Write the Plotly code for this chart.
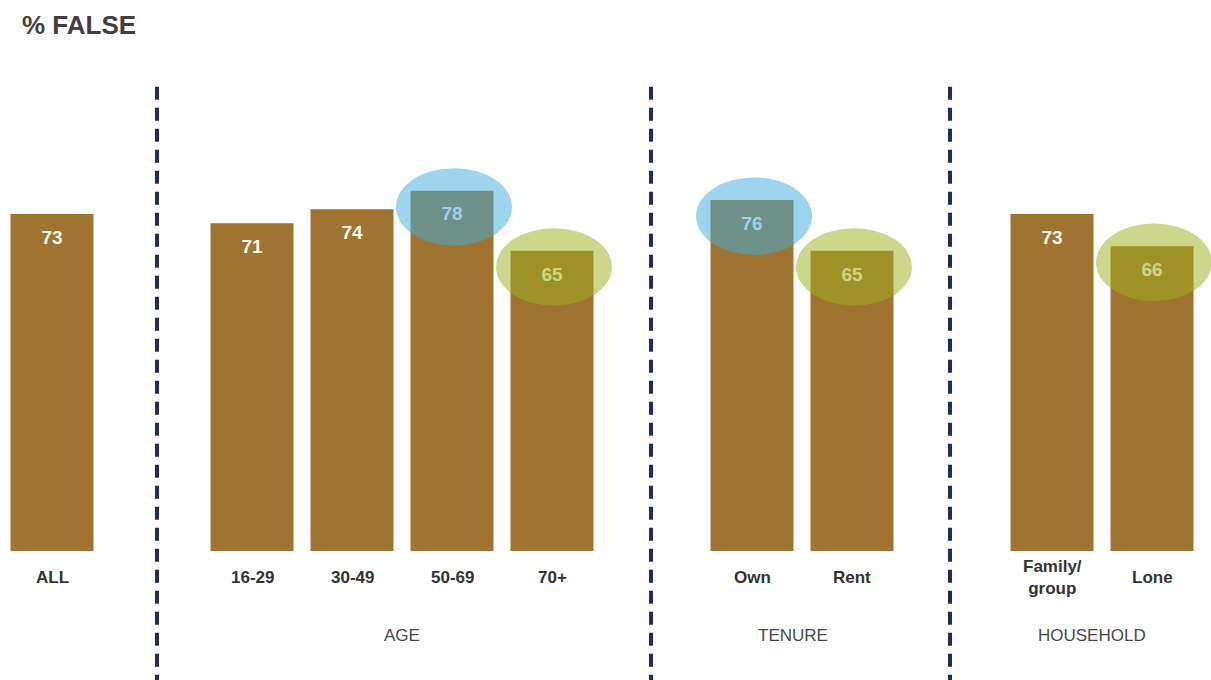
import plotly.graph_objects as go

# Survey result: share answering FALSE, by group
categories = ["ALL", "16-29", "30-49", "50-69", "70+", "Own", "Rent", "Family/<br>group", "Lone"]
values = [73, 71, 74, 78, 65, 76, 65, 73, 66]
# slot index along the x axis (gaps hold the separators)
slots = [0, 2, 3, 4, 5, 7, 8, 10, 11]
separator_slots = [1.05, 5.99, 8.98]
groups = ["AGE", "TENURE", "HOUSEHOLD"]
group_centres = [3.5, 7.41, 10.4]
# highlighted bars: category index -> highlight colour
BLUE_HL = "rgba(59,171,221,0.5)"
GREEN_HL = "rgba(155,175,25,0.5)"
highlights = [(3, BLUE_HL), (4, GREEN_HL), (5, BLUE_HL), (6, GREEN_HL), (8, GREEN_HL)]

BAR = "#9E7430"
FONT = "Liberation Sans, Arial, sans-serif"

fig = go.Figure()
fig.add_trace(go.Bar(x=slots, y=values, width=0.83, marker=dict(color=BAR, line=dict(width=0)),
                     hoverinfo="skip"))
# value labels just inside the top of each bar
fig.add_trace(go.Scatter(x=slots, y=[v - 5.4 for v in values], mode="text",
                         text=[str(v) for v in values],
                         textfont=dict(family=FONT, size=19, color="#FDF8EC", weight="bold"),
                         hoverinfo="skip"))

shapes = []
for s in separator_slots:
    shapes.append(dict(type="line", x0=s, x1=s, y0=100.5, y1=-29, xref="x", yref="y",
                       line=dict(color="#1F2D5C", width=4, dash="13px,8px"), layer="above"))
for idx, col in highlights:
    cx = slots[idx] + 0.02
    cy = values[idx] - 3.5
    shapes.append(dict(type="circle", xref="x", yref="y", x0=cx - 0.58, x1=cx + 0.58,
                       y0=cy - 8.4, y1=cy + 8.4, fillcolor=col, line=dict(width=0),
                       layer="above"))

annotations = []
for s, c in zip(slots, categories):
    annotations.append(dict(x=s, y=-5.8, xref="x", yref="y", text=c, showarrow=False,
                            font=dict(family=FONT, size=17, color="#333333", weight="bold"),
                            yanchor="middle"))
for g, gx in zip(groups, group_centres):
    annotations.append(dict(x=gx, y=-18.2, xref="x", yref="y", text=g, showarrow=False,
                            font=dict(family=FONT, size=17, color="#484848"),
                            yanchor="middle"))
annotations.append(dict(x=20 / 1211, y=1 - 25 / 680, xref="paper", yref="paper",
                        text="% FALSE", showarrow=False, xanchor="left", yanchor="middle",
                        font=dict(family=FONT, size=26, color="#404040", weight="bold")))

fig.update_layout(
    width=1211, height=680, margin=dict(l=0, r=0, t=0, b=0),
    paper_bgcolor="white", plot_bgcolor="white", showlegend=False,
    xaxis=dict(range=[-0.52, 11.59], visible=False, fixedrange=True),
    yaxis=dict(range=[-27.9, 119.3], visible=False, fixedrange=True),
    shapes=shapes, annotations=annotations,
)

fig.write_html("out.html")
